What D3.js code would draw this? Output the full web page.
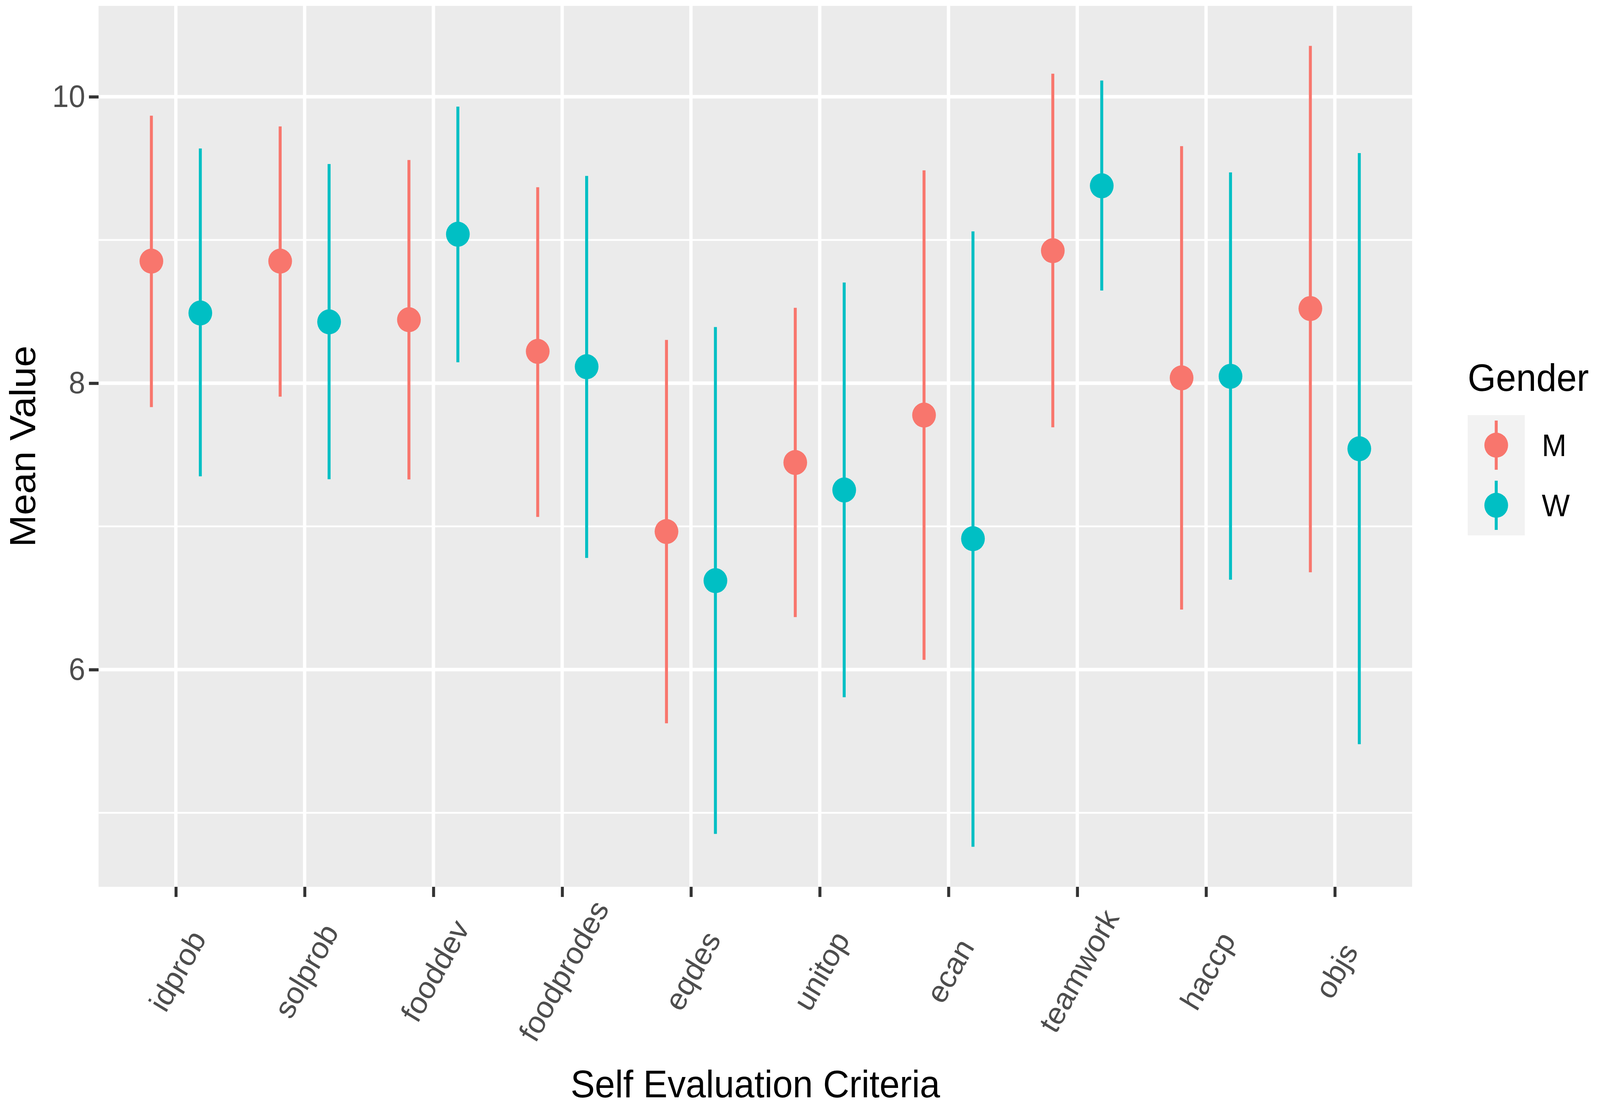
<!DOCTYPE html>
<html>
<head>
<meta charset="utf-8">
<script src="https://cdn.jsdelivr.net/npm/d3@7"></script>
<style>
  html, body { margin: 0; padding: 0; background: #ffffff; overflow: hidden; }
  #plot svg { display: block; width: 100vw; height: 100vh; }
</style>
</head>
<body>
<div id="plot"></div>
<script>
// values
const criteria = ["idprob", "solprob", "fooddev", "foodprodes", "eqdes", "unitop", "ecan", "teamwork", "haccp", "objs"];
const genders = ["M", "W"];
const genderColors = ["#F8766D", "#00BFC4"];

const meanM = [8.852, 8.852, 8.443, 8.222, 6.964, 7.446, 7.777, 8.925, 8.037, 8.521];
const lowM  = [7.833, 7.906, 7.328, 7.066, 5.625, 6.367, 6.068, 7.692, 6.419, 6.680];
const highM = [9.868, 9.793, 9.558, 9.368, 8.302, 8.526, 9.486, 10.161, 9.655, 10.355];

const meanW = [8.490, 8.428, 9.040, 8.115, 6.621, 7.254, 6.914, 9.378, 8.048, 7.542];
const lowW  = [7.350, 7.329, 8.146, 6.780, 4.853, 5.807, 4.763, 8.647, 6.628, 5.479];
const highW = [9.639, 9.530, 9.931, 9.447, 8.392, 8.703, 9.060, 10.113, 9.472, 9.607];

const yMajorTicks = [6, 8, 10];
const yMinorTicks = [5, 7, 9];

const xTitle = "Self Evaluation Criteria";
const yTitle = "Mean Value";
const legendTitle = "Gender";

document.addEventListener('DOMContentLoaded', function () {
    const rows = [];
    criteria.forEach((c, i) => {
        rows.push({crit: c, gender: "M", mean: meanM[i], low: lowM[i], high: highM[i]});
        rows.push({crit: c, gender: "W", mean: meanW[i], low: lowW[i], high: highW[i]});
    });

    const width = 4317;
    const height = 2840;
    const panelLeft = 266;
    const panelRight = 3810;
    const panelTop = 15;
    const panelBottom = 2271;
    const font = "'Liberation Sans', Arial, Helvetica, sans-serif";

    // viewBox so the whole drawing fits whatever the viewport is
    const svg = d3.create("svg")
        .attr("viewBox", [0, 0, width, height])
        .attr("preserveAspectRatio", "none")
        .style("font-family", font);

    svg.append("rect")
        .attr("width", width)
        .attr("height", height)
        .attr("fill", "#ffffff");

    // scales (ggplot style: 0.6 step padding on discrete, 5% on continuous)
    const x = d3.scalePoint()
        .domain(criteria)
        .range([panelLeft, panelRight])
        .padding(0.6);

    const yMin = d3.min(rows, d => d.low);
    const yMax = d3.max(rows, d => d.high);
    const pad = (yMax - yMin) * 0.05;
    const y = d3.scaleLinear()
        .domain([yMin - pad, yMax + pad])
        .range([panelBottom, panelTop]);

    const color = d3.scaleOrdinal().domain(genders).range(genderColors);
    const dodge = x.step() * 0.19;
    const offset = d3.scaleOrdinal().domain(genders).range([-dodge, dodge]);

    // panel
    svg.append("rect")
        .attr("x", panelLeft)
        .attr("y", panelTop)
        .attr("width", panelRight - panelLeft)
        .attr("height", panelBottom - panelTop)
        .attr("fill", "#EBEBEB");

    // grid
    const grid = svg.append("g").attr("stroke", "#ffffff");
    grid.selectAll(".minor")
        .data(yMinorTicks)
        .join("line")
        .attr("x1", panelLeft).attr("x2", panelRight)
        .attr("y1", d => y(d)).attr("y2", d => y(d))
        .attr("stroke-width", 4.5);
    grid.selectAll(".majorY")
        .data(yMajorTicks)
        .join("line")
        .attr("x1", panelLeft).attr("x2", panelRight)
        .attr("y1", d => y(d)).attr("y2", d => y(d))
        .attr("stroke-width", 9);
    grid.selectAll(".majorX")
        .data(criteria)
        .join("line")
        .attr("x1", d => x(d)).attr("x2", d => x(d))
        .attr("y1", panelTop).attr("y2", panelBottom)
        .attr("stroke-width", 9);

    // error bars + points
    const marks = svg.append("g");
    marks.selectAll("line")
        .data(rows)
        .join("line")
        .attr("x1", d => x(d.crit) + offset(d.gender))
        .attr("x2", d => x(d.crit) + offset(d.gender))
        .attr("y1", d => y(d.low))
        .attr("y2", d => y(d.high))
        .attr("stroke", d => color(d.gender))
        .attr("stroke-width", 8);
    marks.selectAll("circle")
        .data(rows)
        .join("circle")
        .attr("cx", d => x(d.crit) + offset(d.gender))
        .attr("cy", d => y(d.mean))
        .attr("r", 32)
        .attr("fill", d => color(d.gender));

    // y axis
    const yAxis = svg.append("g")
        .attr("transform", `translate(${panelLeft},0)`)
        .call(d3.axisLeft(y).tickValues(yMajorTicks).tickSize(26).tickPadding(10).tickFormat(d3.format("d")));
    yAxis.select(".domain").remove();
    yAxis.selectAll(".tick line").attr("stroke", "#333333").attr("stroke-width", 8);
    yAxis.selectAll(".tick text")
        .attr("fill", "#4D4D4D")
        .style("font-size", "80px")
        .style("font-family", font);

    // x axis
    const xAxis = svg.append("g")
        .attr("transform", `translate(0,${panelBottom})`)
        .call(d3.axisBottom(x).tickSize(26).tickFormat(""));
    xAxis.select(".domain").remove();
    xAxis.selectAll(".tick line").attr("stroke", "#333333").attr("stroke-width", 8);

    svg.append("g").selectAll("text")
        .data(criteria)
        .join("text")
        .attr("transform", d => `translate(${x(d) + 4},2486) rotate(-60)`)
        .attr("text-anchor", "middle")
        .attr("dy", "0.35em")
        .attr("fill", "#4D4D4D")
        .style("font-size", "80px")
        .text(d => d);

    // axis titles
    svg.append("text")
        .attr("x", (panelLeft + panelRight) / 2)
        .attr("y", 2810)
        .attr("text-anchor", "middle")
        .style("font-size", "98px")
        .attr("fill", "#000000")
        .text(xTitle);

    svg.append("text")
        .attr("transform", `translate(95,${(panelTop + panelBottom) / 2}) rotate(-90)`)
        .attr("text-anchor", "middle")
        .style("font-size", "98px")
        .attr("fill", "#000000")
        .text(yTitle);

    // legend
    const keyX = 3960;
    const keyTop = 1063;
    const keySize = 154;
    const legend = svg.append("g");
    legend.append("text")
        .attr("x", keyX)
        .attr("y", 1001)
        .style("font-size", "98px")
        .attr("fill", "#000000")
        .text(legendTitle);

    const keys = legend.selectAll("g.key")
        .data(genders)
        .join("g")
        .attr("class", "key")
        .attr("transform", (d, i) => `translate(${keyX},${keyTop + i * keySize})`);
    keys.append("rect")
        .attr("width", keySize)
        .attr("height", keySize)
        .attr("fill", "#F2F2F2");
    keys.append("line")
        .attr("x1", keySize / 2).attr("x2", keySize / 2)
        .attr("y1", keySize / 2 - 63).attr("y2", keySize / 2 + 63)
        .attr("stroke", d => color(d))
        .attr("stroke-width", 8);
    keys.append("circle")
        .attr("cx", keySize / 2)
        .attr("cy", keySize / 2)
        .attr("r", 32)
        .attr("fill", d => color(d));
    keys.append("text")
        .attr("x", keySize + 46)
        .attr("y", keySize / 2)
        .attr("dy", "0.35em")
        .style("font-size", "80px")
        .attr("fill", "#000000")
        .text(d => d);

    document.getElementById("plot").appendChild(svg.node());
});
</script>
</body>
</html>
